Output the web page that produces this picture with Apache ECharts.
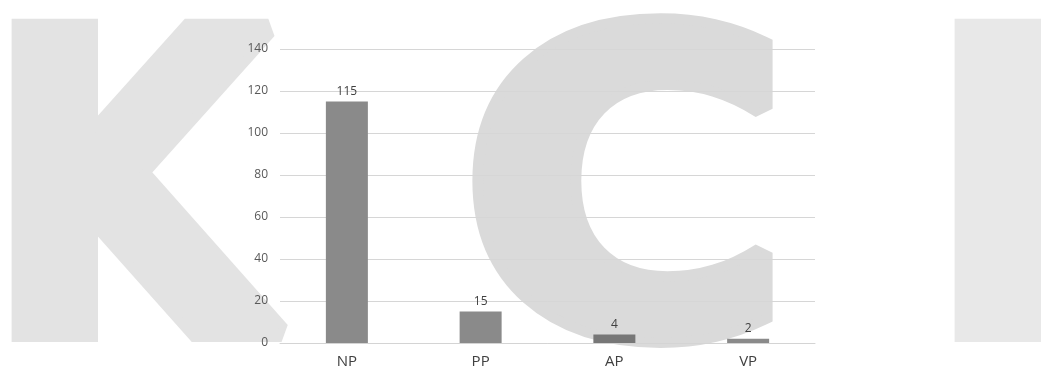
<!DOCTYPE html>
<html>
<head>
<meta charset="utf-8">
<script src="https://cdn.jsdelivr.net/npm/echarts@6/dist/echarts.min.js"></script>
<style>
  html, body { margin: 0; padding: 0; background: #fff; }
  #chart { width: 1044px; height: 377px; }
</style>
</head>
<body>
<div id="chart"></div>
<script>
const categories = ['NP', 'PP', 'AP', 'VP'];
const counts = [115, 15, 4, 2];
const watermarkLetters = ['K', 'C', 'I'];

const chart = echarts.init(document.getElementById('chart'));

// AP sits under the watermark's C, so it reads a bit darker
const barColors = ['#8a8a8a', '#8a8a8a', '#777777', '#8a8a8a'];

const option = {
  animation: false,
  backgroundColor: '#ffffff',
  grid: { left: 280, right: 229, top: 49, bottom: 34 },
  xAxis: {
    type: 'category',
    data: categories,
    axisLine: { lineStyle: { color: '#d4d4d4' } },
    axisTick: { show: false },
    axisLabel: { color: '#404040', fontSize: 15, fontFamily: 'Open Sans', margin: 11 }
  },
  yAxis: {
    type: 'value',
    min: 0,
    max: 140,
    interval: 20,
    axisLine: { show: false },
    axisTick: { show: false },
    splitLine: { lineStyle: { color: '#d6d6d6' } },
    axisLabel: { color: '#595959', fontSize: 12, fontFamily: 'Open Sans', margin: 12 }
  },
  series: [{
    type: 'bar',
    data: counts.map((v, i) => ({ value: v, itemStyle: { color: barColors[i] } })),
    barWidth: 42,
    label: {
      show: true,
      position: 'top',
      distance: 4,
      color: '#404040',
      fontSize: 12,
      fontFamily: 'Open Sans'
    }
  }],
  // light KCI watermark behind the chart
  graphic: watermarkLetters.map((ch, i) => ({
    type: 'text',
    left: [-22, 450, 921][i],
    top: 6,
    scaleX: [0.88, 1.08, 0.88][i],
    z: -1,
    silent: true,
    style: {
      text: ch,
      fontSize: 416,
      fontWeight: 'bold',
      fontFamily: 'DejaVu Sans',
      fill: ['#e3e3e3', '#dadada', '#e8e8e8'][i],
      stroke: ['#e3e3e3', '#dadada', '#e8e8e8'][i],
      lineWidth: 20,
      lineJoin: 'round'
    }
  }))
};

chart.setOption(option);
</script>
</body>
</html>
